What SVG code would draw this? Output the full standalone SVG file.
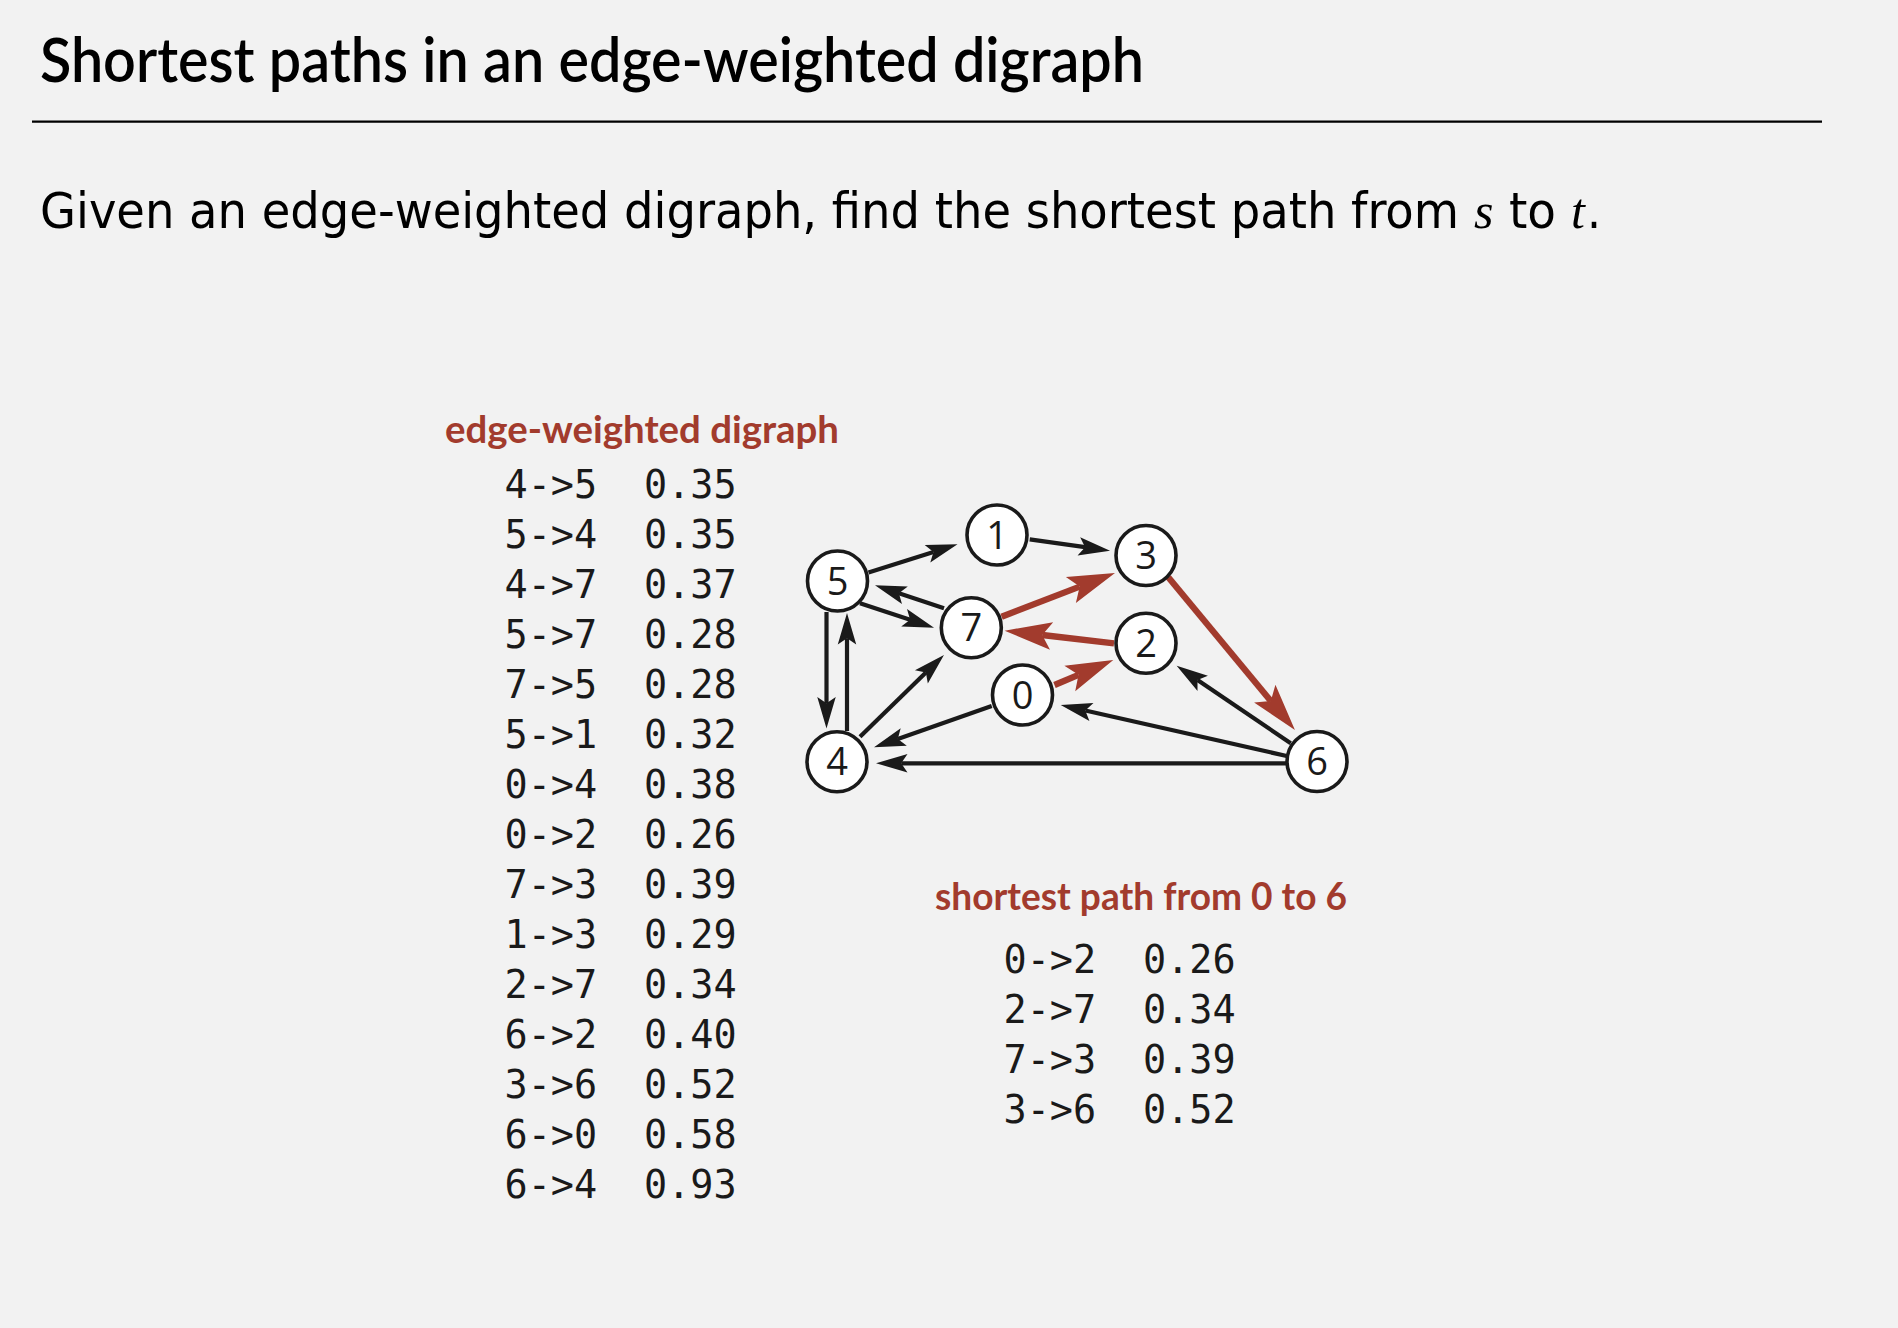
<svg xmlns="http://www.w3.org/2000/svg" width="1898" height="1328" viewBox="0 0 1898 1328">
<defs>
<style>
.title{font-family:"Lato","Liberation Sans",sans-serif;font-size:62px;font-weight:600;fill:#000}
.sub{font-family:"DejaVu Sans Condensed","DejaVu Sans","Liberation Sans",sans-serif;font-size:49px;fill:#000}
.ital{font-family:"Liberation Serif",serif;font-style:italic;font-size:50px;fill:#000}
.hdr{font-family:"Lato","Open Sans",sans-serif;font-weight:700;font-size:38px;fill:#A23B2D}
.mono{font-family:"DejaVu Sans Mono","Liberation Mono",monospace;font-size:38.5px;fill:#1a1a1a}
.node circle{fill:#fff;stroke:#1a1a1a;stroke-width:3.6}
.node text{font-family:"Open Sans","Liberation Sans",sans-serif;font-size:38px;fill:#1a1a1a;text-anchor:middle}
.e{fill:none;stroke:#1a1a1a;stroke-width:4.2;marker-end:url(#ah)}
.r{fill:none;stroke:#A23B2D;stroke-width:6.3;marker-end:url(#ahr)}
</style>
<marker id="ah" viewBox="-2 -3 9 6" refX="0" refY="0" markerWidth="9" markerHeight="6" markerUnits="strokeWidth" orient="auto" overflow="visible">
<path d="M6,0 L-1.5,-2.2 L0,0 L-1.5,2.2 Z" fill="#1a1a1a"/>
</marker>
<marker id="ahr" viewBox="-2 -3 9 6" refX="0" refY="0" markerWidth="9" markerHeight="6" markerUnits="strokeWidth" orient="auto" overflow="visible">
<path d="M6,0 L-1.5,-2.2 L0,0 L-1.5,2.2 Z" fill="#A23B2D"/>
</marker>
</defs>
<rect width="1898" height="1328" fill="#F2F2F2"/>
<text class="title" x="40" y="81.7" textLength="1104" lengthAdjust="spacingAndGlyphs">Shortest paths in an edge-weighted digraph</text>
<line x1="32" y1="121.7" x2="1822" y2="121.7" stroke="#000" stroke-width="2.2"/>
<text class="sub" x="40" y="228.3" textLength="1419" lengthAdjust="spacingAndGlyphs">Given an edge-weighted digraph, find the shortest path from</text>
<text class="ital" x="1474" y="228.3">s</text>
<text class="sub" x="1509" y="228.3" textLength="47" lengthAdjust="spacingAndGlyphs">to</text>
<text class="ital" x="1571" y="228.3">t</text>
<text class="sub" x="1587" y="228.3">.</text>

<g id="edge-list">
<text class="hdr" x="445" y="442.7" textLength="394" lengthAdjust="spacingAndGlyphs">edge-weighted digraph</text>
<text class="mono" x="504.5" y="498.3">4-&gt;5</text><text class="mono" x="644" y="498.3">0.35</text>
<text class="mono" x="504.5" y="548.3">5-&gt;4</text><text class="mono" x="644" y="548.3">0.35</text>
<text class="mono" x="504.5" y="598.3">4-&gt;7</text><text class="mono" x="644" y="598.3">0.37</text>
<text class="mono" x="504.5" y="648.3">5-&gt;7</text><text class="mono" x="644" y="648.3">0.28</text>
<text class="mono" x="504.5" y="698.3">7-&gt;5</text><text class="mono" x="644" y="698.3">0.28</text>
<text class="mono" x="504.5" y="748.3">5-&gt;1</text><text class="mono" x="644" y="748.3">0.32</text>
<text class="mono" x="504.5" y="798.3">0-&gt;4</text><text class="mono" x="644" y="798.3">0.38</text>
<text class="mono" x="504.5" y="848.3">0-&gt;2</text><text class="mono" x="644" y="848.3">0.26</text>
<text class="mono" x="504.5" y="898.3">7-&gt;3</text><text class="mono" x="644" y="898.3">0.39</text>
<text class="mono" x="504.5" y="948.3">1-&gt;3</text><text class="mono" x="644" y="948.3">0.29</text>
<text class="mono" x="504.5" y="998.3">2-&gt;7</text><text class="mono" x="644" y="998.3">0.34</text>
<text class="mono" x="504.5" y="1048.3">6-&gt;2</text><text class="mono" x="644" y="1048.3">0.40</text>
<text class="mono" x="504.5" y="1098.3">3-&gt;6</text><text class="mono" x="644" y="1098.3">0.52</text>
<text class="mono" x="504.5" y="1148.3">6-&gt;0</text><text class="mono" x="644" y="1148.3">0.58</text>
<text class="mono" x="504.5" y="1198.3">6-&gt;4</text><text class="mono" x="644" y="1198.3">0.93</text>
</g>

<g id="path-list">
<text class="hdr" x="935" y="910" textLength="412" lengthAdjust="spacingAndGlyphs">shortest path from 0 to 6</text>
<text class="mono" x="1003.5" y="972.7">0-&gt;2</text><text class="mono" x="1143" y="972.7">0.26</text>
<text class="mono" x="1003.5" y="1022.7">2-&gt;7</text><text class="mono" x="1143" y="1022.7">0.34</text>
<text class="mono" x="1003.5" y="1072.7">7-&gt;3</text><text class="mono" x="1143" y="1072.7">0.39</text>
<text class="mono" x="1003.5" y="1122.7">3-&gt;6</text><text class="mono" x="1143" y="1122.7">0.52</text>
</g>

<g id="connectors">
<path class="e" d="M847 731 L847 638.2"/>
<path class="e" d="M826.5 612 L826.5 703.3"/>
<path class="e" d="M868.5 572.5 L933.5 551.9"/>
<path class="e" d="M1029.7 539.3 L1085.1 547.2"/>
<path class="e" d="M944 608.3 L898.9 593.3"/>
<path class="e" d="M860 603.3 L910.1 619.8"/>
<path class="e" d="M860 736.7 L925.9 672.6"/>
<path class="e" d="M991.7 706 L897.8 739"/>
<path class="e" d="M1286.7 756 L1085.3 710.5"/>
<path class="e" d="M1290.7 743.3 L1197.5 679.9"/>
<path class="e" d="M1286 763.3 L901.2 763.3"/>
<path class="r" d="M1001.6 616.7 L1079.7 586.6"/>
<path class="r" d="M1114 643.3 L1042.2 635"/>
<path class="r" d="M1054.5 685 L1078.5 674.8"/>
<path class="r" d="M1168.3 577.3 L1270.8 700.9"/>
</g>

<g id="node-0" class="node"><circle cx="1022.5" cy="695" r="30"/><text x="1022.5" y="708.5">0</text></g>
<g id="node-1" class="node"><circle cx="997" cy="535" r="30"/><text x="997" y="548.5">1</text></g>
<g id="node-2" class="node"><circle cx="1146" cy="643.3" r="30"/><text x="1146" y="656.8">2</text></g>
<g id="node-3" class="node"><circle cx="1146" cy="555.5" r="30"/><text x="1146" y="569">3</text></g>
<g id="node-4" class="node"><circle cx="837" cy="761.7" r="30"/><text x="837" y="775.2">4</text></g>
<g id="node-5" class="node"><circle cx="837.5" cy="581" r="30"/><text x="837.5" y="594.5">5</text></g>
<g id="node-6" class="node"><circle cx="1317" cy="761.5" r="30"/><text x="1317" y="775">6</text></g>
<g id="node-7" class="node"><circle cx="971.3" cy="627.8" r="30"/><text x="971.3" y="641.3">7</text></g>
</svg>
